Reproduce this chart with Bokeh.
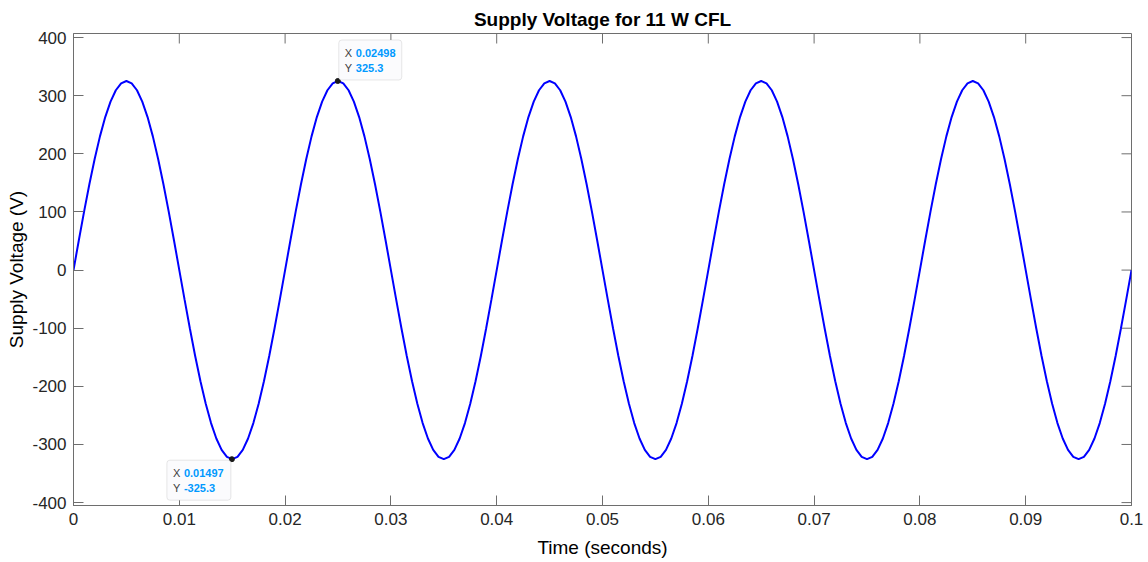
from bokeh.plotting import figure
from bokeh.models import LinearAxis, FixedTicker, Label, BoxAnnotation, Range1d, ColumnDataSource
from bokeh.embed import file_html
from bokeh.resources import INLINE
import numpy as np

# ---- data ----
sample_step = 0.0005  # s
voltage = [
    0.0, 50.9, 100.5, 147.7, 191.2, 230.0, 263.2, 289.8, 309.4, 321.3,
    325.3, 321.3, 309.4, 289.8, 263.2, 230.0, 191.2, 147.7, 100.5, 50.9,
    0.0, -50.9, -100.5, -147.7, -191.2, -230.0, -263.2, -289.8, -309.4, -321.3,
    -325.3, -321.3, -309.4, -289.8, -263.2, -230.0, -191.2, -147.7, -100.5, -50.9,
    0.0, 50.9, 100.5, 147.7, 191.2, 230.0, 263.2, 289.8, 309.4, 321.3,
    325.3, 321.3, 309.4, 289.8, 263.2, 230.0, 191.2, 147.7, 100.5, 50.9,
    0.0, -50.9, -100.5, -147.7, -191.2, -230.0, -263.2, -289.8, -309.4, -321.3,
    -325.3, -321.3, -309.4, -289.8, -263.2, -230.0, -191.2, -147.7, -100.5, -50.9,
    0.0, 50.9, 100.5, 147.7, 191.2, 230.0, 263.2, 289.8, 309.4, 321.3,
    325.3, 321.3, 309.4, 289.8, 263.2, 230.0, 191.2, 147.7, 100.5, 50.9,
    0.0, -50.9, -100.5, -147.7, -191.2, -230.0, -263.2, -289.8, -309.4, -321.3,
    -325.3, -321.3, -309.4, -289.8, -263.2, -230.0, -191.2, -147.7, -100.5, -50.9,
    0.0, 50.9, 100.5, 147.7, 191.2, 230.0, 263.2, 289.8, 309.4, 321.3,
    325.3, 321.3, 309.4, 289.8, 263.2, 230.0, 191.2, 147.7, 100.5, 50.9,
    0.0, -50.9, -100.5, -147.7, -191.2, -230.0, -263.2, -289.8, -309.4, -321.3,
    -325.3, -321.3, -309.4, -289.8, -263.2, -230.0, -191.2, -147.7, -100.5, -50.9,
    0.0, 50.9, 100.5, 147.7, 191.2, 230.0, 263.2, 289.8, 309.4, 321.3,
    325.3, 321.3, 309.4, 289.8, 263.2, 230.0, 191.2, 147.7, 100.5, 50.9,
    0.0, -50.9, -100.5, -147.7, -191.2, -230.0, -263.2, -289.8, -309.4, -321.3,
    -325.3, -321.3, -309.4, -289.8, -263.2, -230.0, -191.2, -147.7, -100.5, -50.9,
    0.0,
]
time = np.arange(len(voltage)) * sample_step

x_ticks = [0, 0.01, 0.02, 0.03, 0.04, 0.05, 0.06, 0.07, 0.08, 0.09, 0.1]
x_tick_labels = ["0", "0.01", "0.02", "0.03", "0.04", "0.05", "0.06", "0.07", "0.08", "0.09", "0.1"]
y_ticks = [-400, -300, -200, -100, 0, 100, 200, 300, 400]
y_tick_labels = ["-400", "-300", "-200", "-100", "0", "100", "200", "300", "400"]

tip_x = [0.02498, 0.01497]
tip_y = [325.3, -325.3]
tip_x_text = ["0.02498", "0.01497"]
tip_y_text = ["325.3", "-325.3"]

title_text = "Supply Voltage for 11 W CFL"
x_label = "Time (seconds)"
y_label = "Supply Voltage (V)"

# ---- layout ----
FONT = "Liberation Sans"
TXT = "#262626"
AX = "#6e6e6e"
X0, X1 = 0.0, 0.1
Y0, Y1 = -405.0, 407.0
FW, FH = 1058, 472

p = figure(frame_width=FW, frame_height=FH, output_backend="svg", toolbar_location=None,
           x_range=Range1d(X0, X1), y_range=Range1d(Y0, Y1),
           min_border_left=73, min_border_right=17, min_border_top=33, min_border_bottom=57,
           x_axis_location=None, y_axis_location=None)
p.background_fill_color = "white"
p.border_fill_color = "white"
p.outline_line_color = AX
p.outline_line_width = 1
p.xgrid.visible = False
p.ygrid.visible = False

p.title.text = title_text
p.title.align = "center"
p.title.text_font = FONT
p.title.text_font_size = "19px"
p.title.text_font_style = "bold"
p.title.text_color = "black"
p.title.standoff = 8

def style_axis(ax):
    ax.axis_line_color = AX
    ax.major_tick_line_color = AX
    ax.major_tick_in = 10
    ax.major_tick_out = 0
    ax.minor_tick_line_color = None
    ax.major_label_text_font = FONT
    ax.major_label_text_font_size = "17px"
    ax.major_label_text_color = TXT
    ax.axis_label_text_font = FONT
    ax.axis_label_text_font_size = "19px"
    ax.axis_label_text_font_style = "normal"
    ax.axis_label_text_color = "black"

xb = LinearAxis(ticker=FixedTicker(ticks=x_ticks),
                major_label_overrides={t: l for t, l in zip(x_ticks, x_tick_labels)},
                axis_label=x_label)
style_axis(xb)
xb.major_label_standoff = 7
xb.axis_label_standoff = 9
p.add_layout(xb, "below")

yl = LinearAxis(ticker=FixedTicker(ticks=y_ticks),
                major_label_overrides={t: l for t, l in zip(y_ticks, y_tick_labels)},
                axis_label=y_label)
style_axis(yl)
yl.major_label_standoff = 7
yl.axis_label_standoff = 2
p.add_layout(yl, "left")

px_x = (X1 - X0) / FW
px_y = (Y1 - Y0) / FH

# inward ticks on the top and right edges of the box
p.segment(x0=x_ticks, x1=x_ticks, y0=[Y1] * len(x_ticks), y1=[Y1 - 10 * px_y] * len(x_ticks),
          line_color=AX, line_width=1)
p.segment(x0=[X1] * len(y_ticks), x1=[X1 - 10 * px_x] * len(y_ticks), y0=y_ticks, y1=y_ticks,
          line_color=AX, line_width=1)

src = ColumnDataSource(dict(t=time, v=voltage))
p.line("t", "v", source=src, line_color="#0000ff", line_width=2)

# ---- data tips ----
box_dirs = [(1, 1), (-1, -1)]
for xv, yv, xs, ys, (sx, sy) in zip(tip_x, tip_y, tip_x_text, tip_y_text, box_dirs):
    if sx > 0:
        left, right = xv + 1 * px_x, xv + 64 * px_x
    else:
        left, right = xv - 65 * px_x, xv - 1 * px_x
    if sy > 0:
        bottom, top = yv + 1 * px_y, yv + 41 * px_y
    else:
        bottom, top = yv - 41 * px_y, yv - 1 * px_y
    p.add_layout(BoxAnnotation(left=left, right=right, bottom=bottom, top=top,
                               fill_color="#fbfbfd", fill_alpha=1,
                               line_color="#b4b4b4", line_width=1, border_radius=3,
                               level="overlay"))
    if sx > 0:
        kx, vx = 7, 18
        r1, r2 = 28, 13
    else:
        kx, vx = -59, -48
        r1, r2 = -14, -29
    for key, val, ro in (("X", xs, r1), ("Y", ys, r2)):
        p.add_layout(Label(x=xv, y=yv, x_offset=kx, y_offset=ro, text=key,
                           text_font=FONT, text_font_size="11px", text_color="#404040",
                           text_baseline="middle", text_align="left", level="overlay"))
        p.add_layout(Label(x=xv, y=yv, x_offset=vx, y_offset=ro, text=val,
                           text_font=FONT, text_font_size="11px", text_color="#0099ff",
                           text_font_style="bold",
                           text_baseline="middle", text_align="left", level="overlay"))

p.scatter(tip_x, tip_y, size=5, color="#1a1a1a", level="overlay")

open("out.html", "w").write(file_html(p, INLINE))
